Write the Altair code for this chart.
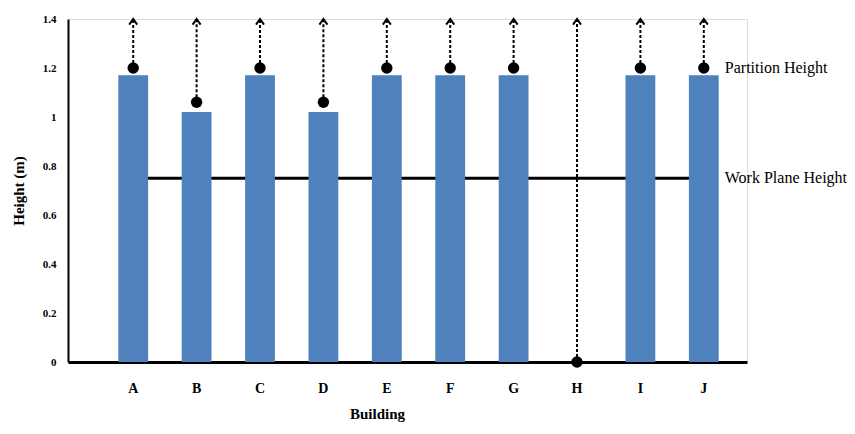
import altair as alt
import pandas as pd

buildings = list("ABCDEFGHIJ")
bar_heights = [1.17, 1.02, 1.17, 1.02, 1.17, 1.17, 1.17, 0.0, 1.17, 1.17]
dot_heights = [1.20, 1.06, 1.20, 1.06, 1.20, 1.20, 1.20, 0.0, 1.20, 1.20]
arrow_top = [1.4] * 10
work_plane = [0.75] * 10

labels = ["Partition Height", "Work Plane Height"]
label_values = [1.2, 0.75]
label_building = ["J", "J"]

df = pd.DataFrame({
    "Building": buildings,
    "bar": bar_heights,
    "dot": dot_heights,
    "top": arrow_top,
    "wp": work_plane,
})
lab = pd.DataFrame({"Building": label_building, "v": label_values, "t": labels})

FONT = "Liberation Serif"

xscale = alt.Scale(domain=buildings, paddingInner=0.53, paddingOuter=0.62, align=0.64)
yscale = alt.Scale(domain=[0, 1.4], nice=False)

xaxis = alt.Axis(title="Building", labelAngle=0, ticks=False, domainWidth=3,
                 domainColor="black", labelFont=FONT, labelFontWeight="bold",
                 labelFontSize=14, labelColor="black", labelPadding=19,
                 titleFont=FONT, titleFontWeight="bold", titleFontSize=15,
                 titleColor="black", titlePadding=11, titleX=309, grid=False)
yaxis = alt.Axis(title="Height (m)", values=[0, 0.2, 0.4, 0.6, 0.8, 1, 1.2, 1.4],
                 format="~g", grid=False, ticks=False, domainWidth=2,
                 domainColor="black", labelFont=FONT, labelFontWeight="bold",
                 labelFontSize=11, labelColor="black", labelPadding=12,
                 titleFont=FONT, titleFontWeight="bold", titleFontSize=15,
                 titleColor="black", titlePadding=16)


def X():
    return alt.X("Building:N", scale=xscale, sort=buildings, axis=xaxis, title="Building")


def Y(field):
    return alt.Y(field, scale=yscale, axis=yaxis, title="Height (m)")


base = alt.Chart(df)

bars = base.transform_filter("datum.bar > 0").mark_bar(color="#4F81BD").encode(
    x=X(), y=Y("bar:Q"))

wp_line = base.mark_line(color="black", strokeWidth=3).encode(x=X(), y=Y("wp:Q"))

rules = base.mark_rule(color="black", strokeWidth=2, strokeDash=[3, 2]).encode(
    x=X(), y=Y("dot:Q"), y2="top:Q")

dots = base.mark_point(shape="circle", filled=True, color="black", size=130, opacity=1).encode(
    x=X(), y=Y("dot:Q"))

heads = base.mark_point(shape="M-1,1.4 L0,0 L1,1.4", filled=False, color="black",
                        strokeWidth=2, size=64, opacity=1).encode(
    x=X(), y=Y("top:Q"))

texts = alt.Chart(lab).mark_text(align="left", baseline="middle", dx=21, font=FONT,
                                 fontSize=16, color="black").encode(
    x=X(), y=Y("v:Q"), text="t:N")

chart = alt.layer(wp_line, bars, rules, dots, heads, texts).properties(
    width=679, height=343,
    autosize=alt.AutoSizeParams(type="none"),
    padding={"left": 60, "top": 11, "right": 100, "bottom": 64},
).configure_view(stroke="transparent", strokeWidth=0).configure_axis(grid=False).configure(background="white")

chart.save("out.html", embed_options={"renderer": "svg", "actions": False})
